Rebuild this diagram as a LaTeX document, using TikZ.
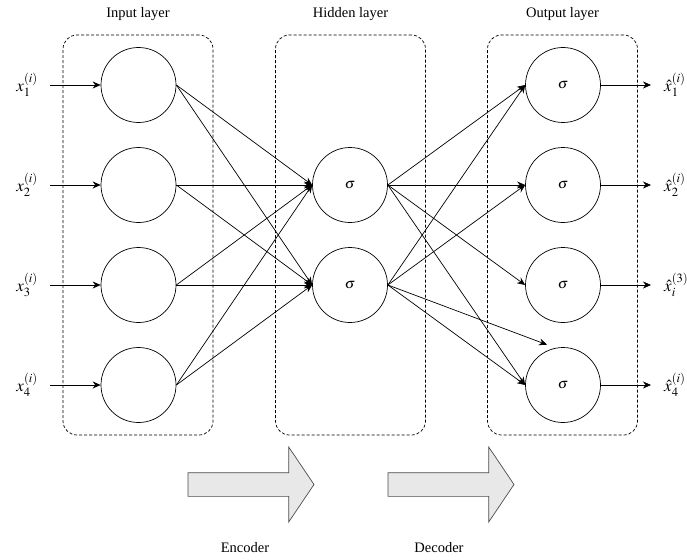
\documentclass[tikz,border=0pt]{standalone}
\usepackage{mathptmx}
\usepackage[no-math]{fontspec}
\setmainfont{Liberation Serif}
\usetikzlibrary{positioning, arrows.meta, shapes.arrows}

\begin{document}
\begin{tikzpicture}[
    x=1pt, y=-1pt,
    every node/.style={font=\fontsize{14.5}{17}\selectfont},
    neuron/.style={draw, circle, minimum size=75pt, inner sep=0pt, line width=0.7pt},
    layerbox/.style={draw, dash pattern=on 3pt off 2pt, rounded corners=14pt, minimum width=150pt, minimum height=400pt, line width=0.7pt},
    inlabel/.style={anchor=east, inner xsep=12pt, inner ysep=0pt, font=\fontsize{17}{20}\selectfont},
    outlabel/.style={anchor=west, inner xsep=13pt, inner ysep=0pt, font=\fontsize{17}{20}\selectfont},
    arrow/.style={-{Stealth[length=8pt, width=7pt]}, line width=0.7pt},
    bigarrow/.style={single arrow, draw=black!70, fill=black!9, line width=0.7pt, minimum height=126pt, inner sep=11.5pt, single arrow head extend=25.5pt, single arrow tip angle=112}
]
\useasboundingbox (0,0) rectangle (687,559);

% Layer boxes
\node[layerbox] (inbox) at (138,235) {};
\node[layerbox] (hidbox) at (350.5,235) {};
\node[layerbox] (outbox) at (562.5,235) {};

\node (intitle) at (138,14) {Input layer};
\node (hidtitle) at (350.5,14) {Hidden layer};
\node (outtitle) at (562.5,14) {Output layer};

% Neurons
\node[neuron] (i1) at (138.5,85) {};
\node[neuron] (i2) at (138.5,185) {};
\node[neuron] (i3) at (138.5,285) {};
\node[neuron] (i4) at (138.5,385) {};

\node[neuron] (h1) at (350,185) {$\sigma$};
\node[neuron] (h2) at (350,285) {$\sigma$};

\node[neuron] (o1) at (563,85) {$\sigma$};
\node[neuron] (o2) at (563,185) {$\sigma$};
\node[neuron] (o3) at (563,285) {$\sigma$};
\node[neuron] (o4) at (563,385) {$\sigma$};

% Inputs and outputs
\node[inlabel] (xin1) at (50,85) {$x_1^{(i)}$};
\node[inlabel] (xin2) at (50,185) {$x_2^{(i)}$};
\node[inlabel] (xin3) at (50,285) {$x_3^{(i)}$};
\node[inlabel] (xin4) at (50,385) {$x_4^{(i)}$};

\node[outlabel] (xout1) at (651,85) {$\hat{x}_1^{(i)}$};
\node[outlabel] (xout2) at (651,185) {$\hat{x}_2^{(i)}$};
\node[outlabel] (xout3) at (651,285) {$\hat{x}_i^{(3)}$};
\node[outlabel] (xout4) at (651,385) {$\hat{x}_4^{(i)}$};

% Encoder / decoder
\node[bigarrow] (enc) at (247,484.5) {};
\node[bigarrow] (dec) at (447,484.5) {};

\node (enctext) at (245,548) {Encoder};
\node (dectext) at (439,548) {Decoder};

% Arrows
\draw[arrow] (xin1) -- (i1);
\draw[arrow] (xin2) -- (i2);
\draw[arrow] (xin3) -- (i3);
\draw[arrow] (xin4) -- (i4);

\draw[arrow] (i1.east) -- (h1.west);
\draw[arrow] (i1.east) -- (h2.west);
\draw[arrow] (i2.east) -- (h1.west);
\draw[arrow] (i2.east) -- (h2.west);
\draw[arrow] (i3.east) -- (h1.west);
\draw[arrow] (i3.east) -- (h2.west);
\draw[arrow] (i4.east) -- (h1.west);
\draw[arrow] (i4.east) -- (h2.west);

\draw[arrow] (h1.east) -- (o1.west);
\draw[arrow] (h1.east) -- (o2.west);
\draw[arrow] (h1.east) -- (o3.west);
\draw[arrow] (h1.east) -- (o4.west);
\draw[arrow] (h2.east) -- (o1.west);
\draw[arrow] (h2.east) -- (o2.west);
\draw[arrow] (h2.east) -- (o4.west);
\draw[arrow] (h2.east) -- ([yshift=6pt]o4.115);

\draw[arrow] (o1) -- (xout1);
\draw[arrow] (o2) -- (xout2);
\draw[arrow] (o3) -- (xout3);
\draw[arrow] (o4) -- (xout4);

\end{tikzpicture}
\end{document}
